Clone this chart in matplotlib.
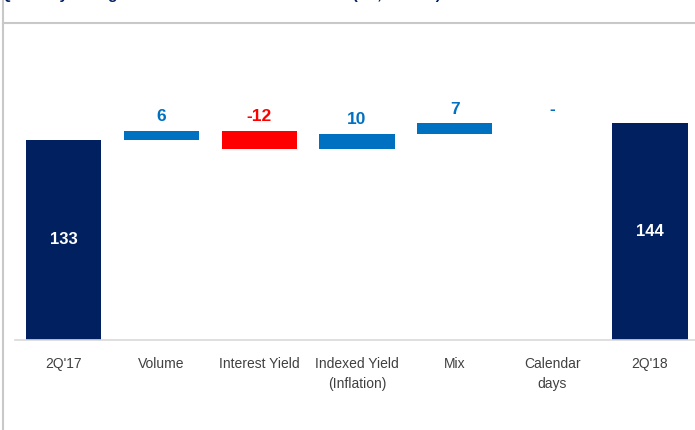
import matplotlib.pyplot as plt
import matplotlib.lines as mlines

plt.rcParams['font.family'] = ['Liberation Sans', 'DejaVu Sans']

# ── data ──────────────────────────────────────────────
categories = ["2Q'17", "Volume", "Interest Yield", "Indexed Yield\n(Inflation)",
              "Mix", "Calendar\ndays", "2Q'18"]
start_value = 133
end_value = 144
deltas = [6, -12, 10, 7, 0]
delta_labels = ["6", "-12", "10", "7", "-"]
title = "Quarterly change in Net Interest Income - Loans (R$, million)"

NAVY = '#002060'
BLUE = '#0070C0'
RED = '#FF0000'

fig = plt.figure(figsize=(6.95, 4.30), dpi=100)
ax = fig.add_axes([15 / 695, 90 / 430, 680 / 695, 280 / 430])

n = len(categories)
width = 0.77

# totals
ax.bar(0, start_value, width, color=NAVY, zorder=2)
ax.bar(n - 1, end_value, width, color=NAVY, zorder=2)
ax.text(0, start_value / 2, str(start_value), ha='center', va='center',
        color='white', fontsize=12, fontweight='bold')
ax.text(n - 1, end_value / 2, str(end_value), ha='center', va='center',
        color='white', fontsize=12, fontweight='bold')

# floating deltas
level = start_value
for i, (d, lab) in enumerate(zip(deltas, delta_labels), start=1):
    lo, hi = sorted([level, level + d])
    color = RED if d < 0 else BLUE
    if d != 0:
        ax.bar(i, hi - lo, width, bottom=lo, color=color, zorder=2)
    ax.annotate(lab, (i, hi), xytext=(0, 5), textcoords='offset points',
                ha='center', va='bottom', color=color, fontsize=12.5,
                fontweight='bold')
    level += d

ax.set_xlim(-0.5, 6.46)
ax.set_ylim(0, 186.2)
ax.set_xticks(range(n))
ax.set_xticklabels(categories, fontsize=10, color='#404040', linespacing=1.6)
ax.tick_params(axis='x', length=0, pad=12)
ax.set_yticks([])
for s in ['top', 'right', 'left']:
    ax.spines[s].set_visible(False)
ax.spines['bottom'].set_color('#d9d9d9')
ax.spines['bottom'].set_linewidth(1.2)

# slide frame lines and cut-off title
fig.add_artist(mlines.Line2D([3 / 695, 3 / 695], [0, 1], color='#c8c8c8', lw=1.5))
fig.add_artist(mlines.Line2D([3 / 695, 1], [1 - 23 / 430, 1 - 23 / 430], color='#c8c8c8', lw=1.5))
fig.text(0, 1 + 1 / 430, title, ha='left', va='baseline', fontsize=11,
         fontweight='bold', color=NAVY)

fig.savefig('out.png', dpi=100)
